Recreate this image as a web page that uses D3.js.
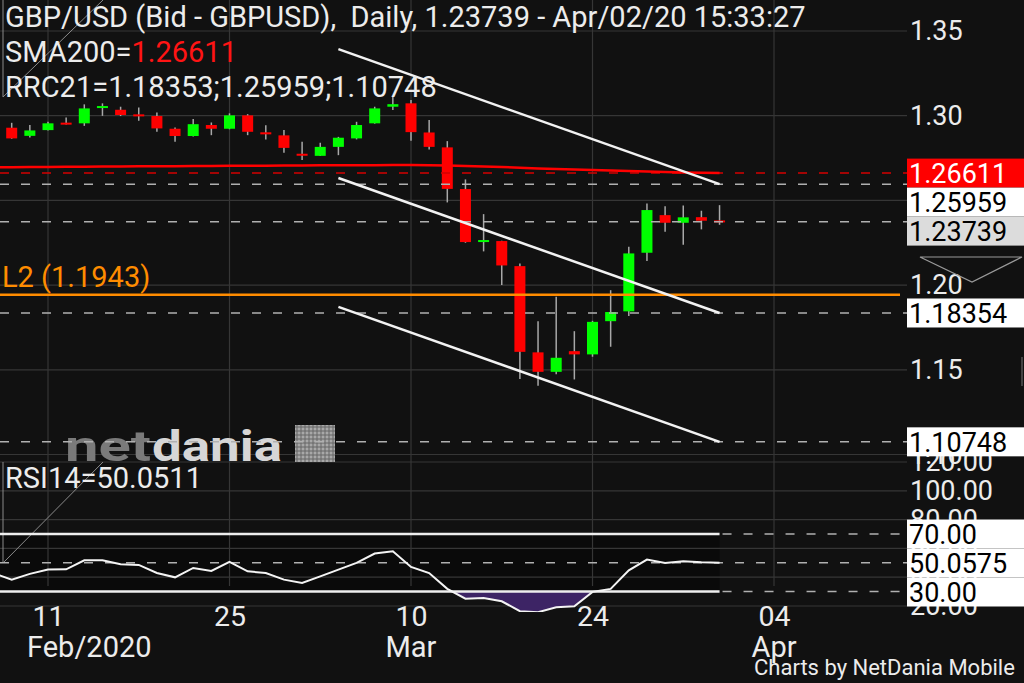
<!DOCTYPE html>
<html><head><meta charset="utf-8">
<script src="https://cdn.jsdelivr.net/npm/d3@7"></script>
<style>
html,body{margin:0;padding:0;background:#111;overflow:hidden}
svg{display:block}
text{font-family:Roboto,"Noto Sans",sans-serif;white-space:pre}
</style>
</head><body><svg id="c" width="1024" height="683"></svg>
<script>
// ---------- DATA ----------
const dates = ["2020-02-06","2020-02-07","2020-02-10","2020-02-11","2020-02-12","2020-02-13","2020-02-14",
"2020-02-17","2020-02-18","2020-02-19","2020-02-20","2020-02-21","2020-02-24","2020-02-25","2020-02-26",
"2020-02-27","2020-02-28","2020-03-02","2020-03-03","2020-03-04","2020-03-05","2020-03-06","2020-03-09",
"2020-03-10","2020-03-11","2020-03-12","2020-03-13","2020-03-16","2020-03-17","2020-03-18","2020-03-19",
"2020-03-20","2020-03-23","2020-03-24","2020-03-25","2020-03-26","2020-03-27","2020-03-30","2020-03-31",
"2020-04-01","2020-04-02"];
const open  = [1.2935,1.2929,1.2881,1.2915,1.2956,1.2955,1.3048,1.3035,1.3005,1.2998,1.2923,1.2880,1.2945,1.2923,1.3002,
1.2902,1.2884,1.2775,1.2763,1.2816,1.2866,1.2955,1.3053,1.3073,1.2901,1.2813,1.2567,1.2257,1.2260,1.2112,1.1603,
1.1488,1.1610,1.1591,1.1787,1.1845,1.2191,1.2413,1.2368,1.2401,1.2378];
const high  = [1.2961,1.2958,1.2945,1.2964,1.2990,1.3067,1.3073,1.3053,1.3049,1.3019,1.2930,1.2980,1.2960,1.3014,1.3009,
1.2943,1.2915,1.2846,1.2840,1.2875,1.2964,1.3053,1.3110,1.3092,1.2974,1.2850,1.2624,1.2419,1.2262,1.2128,1.1787,
1.1931,1.1728,1.1789,1.1970,1.2226,1.2482,1.2466,1.2470,1.2439,1.2472];
const low   = [1.2870,1.2864,1.2872,1.2912,1.2948,1.2940,1.2999,1.2998,1.2970,1.2905,1.2846,1.2877,1.2885,1.2920,1.2885,
1.2860,1.2781,1.2738,1.2762,1.2767,1.2860,1.2953,1.3033,1.2852,1.2801,1.2488,1.2250,1.2199,1.2000,1.1445,1.1406,
1.1473,1.1443,1.1577,1.1636,1.1817,1.2143,1.2315,1.2238,1.2329,1.2356];
const close = [1.2895,1.2866,1.2913,1.2955,1.2950,1.3043,1.3054,1.3004,1.2999,1.2925,1.2880,1.2950,1.2923,1.3002,1.2905,
1.2890,1.2810,1.2764,1.2816,1.2870,1.2945,1.3043,1.3068,1.2903,1.2816,1.2568,1.2254,1.2263,1.2116,1.1606,1.1488,
1.1571,1.1591,1.1783,1.1841,1.2187,1.2443,1.2368,1.2400,1.2380,1.23739];
const sma200 = [1.2695,1.2696,1.2697,1.2697,1.2698,1.2699,1.2700,1.2700,1.2701,1.2702,1.2702,1.2703,1.2703,1.2704,1.2705,
1.2705,1.2706,1.2706,1.2707,1.2707,1.2708,1.2708,1.2709,1.2709,1.2708,1.2706,1.2703,1.2700,1.2697,1.2693,1.2689,
1.2686,1.2682,1.2679,1.2676,1.2673,1.2670,1.2668,1.2665,1.2663,1.26611];
const rsi14 = [42.8,38.3,42.3,45.3,45.5,51.7,51.7,49.0,48.5,42.9,39.9,46.4,44.3,50.6,44.1,42.9,38.3,36.0,40.6,45.3,
49.9,56.4,58.0,47.1,42.9,31.9,25.1,25.6,23.3,16.4,15.7,19.1,19.8,29.8,31.9,44.8,52.2,49.9,51.0,50.3,50.0575];

// regression channel (RRC21): start/end of middle line, and the band ends
const rrcStartIndex = 19, rrcEndIndex = 40;
const rrcMid = [1.2632, 1.18353];
const rrcUpperEnd = 1.25959, rrcLowerEnd = 1.10748;

const priceTicks = [1.10,1.15,1.20,1.25,1.30,1.35];
const rsiTicks = [20,40,60,80,100,120];
const tickSlots = [3,13,23,33,43];
const tickLabels = ["11","25","10","24","04"];
const monthSlots = [3,23,43];
const monthLabels = ["Feb/2020","Mar","Apr"];

const priceLevels = [1.26611,1.25959,1.23739,1.18354,1.10748];
const priceLevelLabels = ["1.26611","1.25959","1.23739","1.18354","1.10748"];
const rsiLevels = [70,50.0575,30];
const rsiLevelLabels = ["70.00","50.0575","30.00"];
const l2Level = 1.1943;

const titleText = "GBP/USD (Bid - GBPUSD),  Daily, 1.23739 - Apr/02/20 15:33:27";
const smaText = ["SMA200=","1.26611"];
const rrcText = "RRC21=1.18353;1.25959;1.10748";
const rsiText = "RSI14=50.0511";
const l2Text = "L2 (1.1943)";

// ---------- LAYOUT ----------
const W = 1024, H = 683;
const plotRight = 907;
const x = d3.scaleLinear().domain([3,43]).range([48,774]);
const y = d3.scaleLinear().domain([1.10,1.35]).range([454.5,31]);
const yR = d3.scaleLinear().domain([20,120]).range([606,462]);
const lastX = x(dates.length-1);
const gridCol = "#363636";
const hfs = 29;

const svg = d3.select("#c");
svg.append("rect").attr("width",W).attr("height",H).attr("fill","#111");
const defs = svg.append("defs");
defs.append("clipPath").attr("id","pclip").append("rect").attr("x",0).attr("y",0).attr("width",plotRight).attr("height",461);
defs.append("clipPath").attr("id","rclip").append("rect").attr("x",0).attr("y",yR(30)).attr("width",plotRight).attr("height",40);
defs.append("clipPath").attr("id","rpanel").append("rect").attr("x",0).attr("y",462).attr("width",plotRight).attr("height",150);

// RSI zone darker band
svg.append("rect").attr("x",0).attr("y",yR(70)).attr("width",lastX).attr("height",yR(30)-yR(70)).attr("fill","#0a0a0a");

// grid
svg.append("g").selectAll("line").data(priceTicks).join("line")
  .attr("x1",0).attr("x2",plotRight).attr("y1",d=>y(d)).attr("y2",d=>y(d))
  .attr("stroke",gridCol).attr("stroke-width",1.2);
svg.append("g").selectAll("line").data(rsiTicks).join("line")
  .attr("x1",0).attr("x2",plotRight).attr("y1",d=>yR(d)).attr("y2",d=>yR(d))
  .attr("stroke",gridCol).attr("stroke-width",1.2);
svg.append("g").selectAll("line").data(tickSlots).join("line")
  .attr("x1",d=>x(d)).attr("x2",d=>x(d)).attr("y1",0).attr("y2",586)
  .attr("stroke",gridCol).attr("stroke-width",1.2);

// Logo watermark
const logo = svg.append("g");
logo.append("text").attr("x",65).attr("y",461).attr("font-family","DejaVu Sans").attr("font-weight","bold")
  .attr("font-size",42).attr("textLength",86).attr("lengthAdjust","spacingAndGlyphs").attr("fill","#7a7a7a").text("net");
logo.append("text").attr("x",152).attr("y",461).attr("font-family","DejaVu Sans").attr("font-weight","bold")
  .attr("font-size",42).attr("textLength",130).attr("lengthAdjust","spacingAndGlyphs").attr("fill","#d6d6d6").text("dania");
logo.append("rect").attr("x",295).attr("y",425).attr("width",40).attr("height",37).attr("fill","#a8a8a8");
logo.append("g").selectAll("line").data(d3.range(297,335,4)).join("line")
  .attr("x1",d=>d).attr("x2",d=>d).attr("y1",425).attr("y2",462).attr("stroke","#666").attr("stroke-width",1);
logo.append("g").selectAll("line").data(d3.range(427,462,4)).join("line")
  .attr("x1",295).attr("x2",335).attr("y1",d=>d).attr("y2",d=>d).attr("stroke","#666").attr("stroke-width",1);

// decorative handles
const deco = svg.append("g").attr("stroke","#8a8a8a").attr("stroke-width",1).attr("fill","none");
deco.append("path").attr("d","M3,0V97L103,0");
deco.append("path").attr("d","M3,462V563L103,462");

// candles
const idx = d3.range(dates.length);
const cg = svg.append("g").attr("clip-path","url(#pclip)");
cg.selectAll("line.w").data(idx).join("line")
  .attr("x1",i=>x(i)).attr("x2",i=>x(i)).attr("y1",i=>y(high[i])).attr("y2",i=>y(low[i]))
  .attr("stroke","#a8a8a8").attr("stroke-width",1.5);
cg.selectAll("rect.b").data(idx).join("rect")
  .attr("x",i=>x(i)-5.5).attr("width",11)
  .attr("y",i=>{const t=y(Math.max(open[i],close[i])),b=y(Math.min(open[i],close[i]));return b-t<2?(t+b)/2-1:t;})
  .attr("height",i=>Math.max(2,y(Math.min(open[i],close[i]))-y(Math.max(open[i],close[i]))))
  .attr("fill",i=>close[i]>=open[i]?"#00ff00":"#ff0000");

// dashed level lines
const lg = svg.append("g");
lg.append("line").attr("x1",0).attr("x2",plotRight).attr("y1",y(priceLevels[0])).attr("y2",y(priceLevels[0]))
  .attr("stroke","#d40000").attr("stroke-width",1.5).attr("stroke-dasharray","9,12");
lg.selectAll("line.g").data(priceLevels.slice(1)).join("line")
  .attr("x1",0).attr("x2",plotRight).attr("y1",d=>y(d)).attr("y2",d=>y(d))
  .attr("stroke","#b0b0b0").attr("stroke-width",1.5).attr("stroke-dasharray","9,12");
// orange L2
lg.append("line").attr("x1",0).attr("x2",900).attr("y1",y(l2Level)).attr("y2",y(l2Level))
  .attr("stroke","#ff8c00").attr("stroke-width",2.5);

// SMA200
svg.append("path").datum(idx).attr("clip-path","url(#pclip)")
  .attr("d",d3.line().x(i=>x(i)).y(i=>y(sma200[i])))
  .attr("fill","none").attr("stroke","#ff0000").attr("stroke-width",2.5);

// regression channel
const off = rrcUpperEnd - rrcMid[1], offL = rrcMid[1] - rrcLowerEnd;
const chan = [[rrcMid[0]+off, rrcUpperEnd],[rrcMid[0], rrcMid[1]],[rrcMid[0]-offL, rrcLowerEnd]];
svg.append("g").selectAll("line").data(chan).join("line")
  .attr("x1",x(rrcStartIndex)).attr("x2",x(rrcEndIndex)).attr("y1",d=>y(d[0])).attr("y2",d=>y(d[1]))
  .attr("stroke","#f2f2f2").attr("stroke-width",2.5);

// RSI
svg.append("path").datum(idx).attr("clip-path","url(#rclip)")
  .attr("d",d3.area().x(i=>x(i)).y0(yR(30)).y1(i=>yR(rsi14[i])))
  .attr("fill","#3d2465");
const rg = svg.append("g");
[70,30].forEach(v=>{
  rg.append("line").attr("x1",0).attr("x2",lastX).attr("y1",yR(v)).attr("y2",yR(v)).attr("stroke","#eeeeee").attr("stroke-width",2.5);
  rg.append("line").attr("x1",lastX).attr("x2",plotRight).attr("y1",yR(v)).attr("y2",yR(v))
    .attr("stroke","#b0b0b0").attr("stroke-width",1.5).attr("stroke-dasharray","9,12").attr("stroke-dashoffset",-3);
});
rg.append("line").attr("x1",0).attr("x2",plotRight).attr("y1",yR(rsiLevels[1])).attr("y2",yR(rsiLevels[1]))
  .attr("stroke","#b0b0b0").attr("stroke-width",1.5).attr("stroke-dasharray","9,12");
svg.append("path").datum(idx).attr("clip-path","url(#rpanel)")
  .attr("d",d3.line().x(i=>x(i)).y(i=>yR(rsi14[i])))
  .attr("fill","none").attr("stroke","#f4f4f4").attr("stroke-width",2);

// header texts
const tcol = "#ececec";
svg.append("text").attr("x",5).attr("y",27).attr("font-size",hfs).attr("fill",tcol).text(titleText);
const st = svg.append("text").attr("x",5).attr("y",62).attr("font-size",hfs).attr("fill",tcol);
st.append("tspan").text(smaText[0]); st.append("tspan").attr("fill","#ff1414").text(smaText[1]);
svg.append("text").attr("x",5).attr("y",97).attr("font-size",hfs).attr("fill",tcol).text(rrcText);
svg.append("text").attr("x",5).attr("y",488).attr("font-size",hfs).attr("fill",tcol).text(rsiText);
svg.append("text").attr("x",2).attr("y",287).attr("font-size",hfs).attr("fill","#ff8c00").text(l2Text);

// right axes
const pa = svg.append("g").attr("transform",`translate(${plotRight},0)`)
  .call(d3.axisRight(y).tickValues(priceTicks).tickSize(0).tickPadding(3).tickFormat(d3.format(".2f")));
const ra = svg.append("g").attr("transform",`translate(${plotRight},0)`)
  .call(d3.axisRight(yR).tickValues(rsiTicks).tickSize(0).tickPadding(3).tickFormat(d3.format(".2f")));
[pa,ra].forEach(a=>{a.select(".domain").remove();
  a.selectAll("text").attr("font-size",27).attr("fill",tcol).attr("font-family","Roboto,sans-serif");});

// small triangle marker near 1.20
svg.append("path").attr("d","M920,257H1022L972,282Z").attr("fill","none").attr("stroke","#9a9a9a").attr("stroke-width",1.2);
svg.append("line").attr("x1",1022).attr("x2",1022).attr("y1",357).attr("y2",386).attr("stroke","#777").attr("stroke-width",1);

// level boxes with stacking
function boxes(vals, labels, scale, styles){
  const bh = 29;
  const items = vals.map((v,k)=>({c:scale(v),label:labels[k],st:styles[k]})).sort((a,b)=>a.c-b.c);
  let prevBottom = -1e9;
  items.forEach(it=>{ let top = it.c - bh/2; if(top < prevBottom) top = prevBottom; it.top = top; prevBottom = top + bh; });
  const g = svg.append("g");
  items.forEach(it=>{
    g.append("rect").attr("x",plotRight).attr("y",it.top).attr("width",W-plotRight).attr("height",bh).attr("fill",it.st[0]);
    g.append("text").attr("x",plotRight+2).attr("y",it.top+bh/2+10).attr("font-size",27).attr("fill",it.st[1]).text(it.label);
  });
}
boxes(priceLevels, priceLevelLabels, y, [["#ff0000","#ffffff"],["#ffffff","#000"],["#dcdcdc","#000"],["#ffffff","#000"],["#ffffff","#000"]]);
boxes(rsiLevels, rsiLevelLabels, yR, [["#ffffff","#000"],["#ffffff","#000"],["#ffffff","#000"]]);

// bottom axis
const xa = svg.append("g").attr("transform","translate(0,600)")
  .call(d3.axisBottom(x).tickValues(tickSlots).tickSize(0).tickPadding(6).tickFormat((d,k)=>tickLabels[k]));
xa.select(".domain").remove();
xa.selectAll("text").attr("font-size",28.5).attr("fill",tcol).attr("font-family","Roboto,sans-serif");
const mg = svg.append("g");
monthSlots.forEach((s,k)=>{
  const t = mg.append("text").attr("x",x(s)).attr("y",657).attr("font-size",hfs).attr("fill",tcol).attr("text-anchor","middle").text(monthLabels[k]);
  const w = t.node().getComputedTextLength();
  if (x(s) - w/2 < 27) t.attr("x",27).attr("text-anchor","start");
});
svg.append("text").attr("x",754).attr("y",675).attr("font-size",22).attr("fill",tcol).text("Charts by NetDania Mobile");
</script></body></html>
